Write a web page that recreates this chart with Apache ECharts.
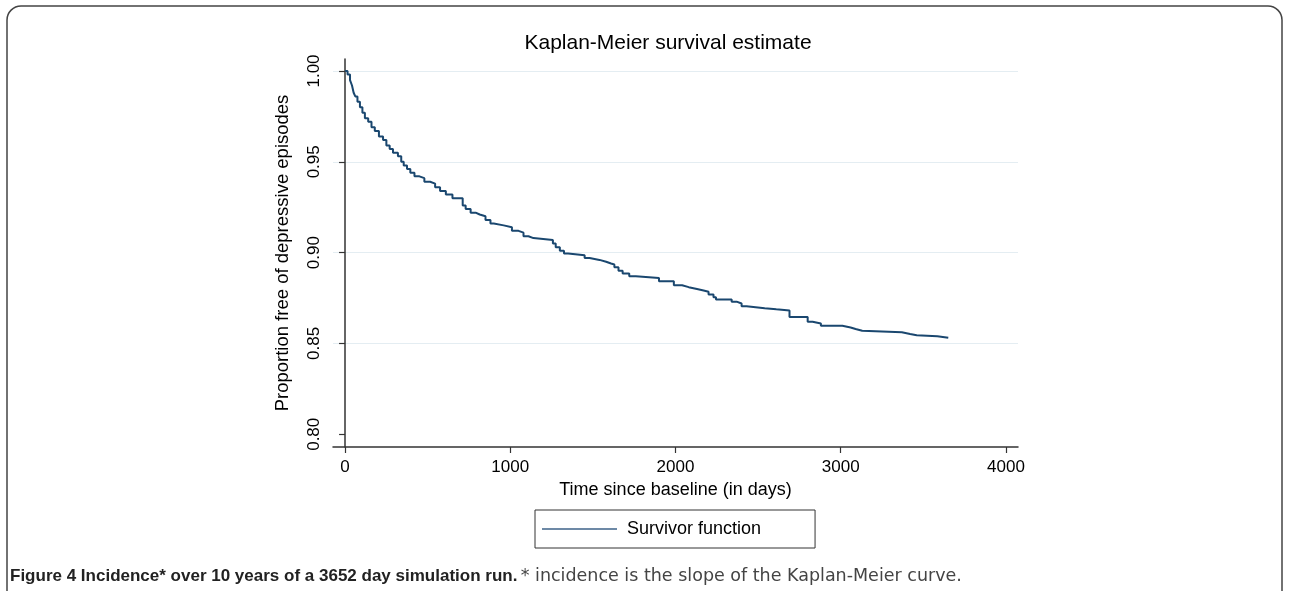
<!DOCTYPE html>
<html>
<head>
<meta charset="utf-8">
<script src="https://cdn.jsdelivr.net/npm/echarts@6/dist/echarts.min.js"></script>
<style>
  html, body { margin: 0; padding: 0; background: #fff; }
  #chart { width: 1289px; height: 591px; }
</style>
</head>
<body>
<div id="chart"></div>
<script>
// Kaplan-Meier 生存曲线 (数值读自原图)
var survTime = [0, 15, 30, 42, 52, 62, 75, 90, 105, 120, 140, 160, 180, 205, 230, 250, 270, 290, 320, 340,
	355, 375, 395, 420, 450, 480, 515, 545, 575, 610, 650, 712, 730, 760, 790, 815, 850, 880, 900, 960,
	1010, 1050, 1080, 1110, 1140, 1258, 1275, 1300, 1325, 1350, 1450, 1480, 1540, 1580, 1610, 1630, 1655, 1680, 1720, 1760,
	1900, 1990, 2040, 2080, 2130, 2170, 2200, 2230, 2245, 2340, 2370, 2400, 2430, 2540, 2610, 2690, 2800, 2830, 2880, 3010,
	3060, 3090, 3130, 3370, 3420, 3460, 3585, 3651];
var survProb = [1.000, 0.998, 0.995, 0.992, 0.988, 0.986, 0.983, 0.980, 0.977, 0.974, 0.972, 0.969, 0.967, 0.964, 0.962, 0.959, 0.957, 0.955, 0.953, 0.950,
	0.948, 0.946, 0.944, 0.942, 0.941, 0.939, 0.938, 0.936, 0.934, 0.932, 0.930, 0.926, 0.924, 0.922, 0.921, 0.920, 0.918, 0.916, 0.915, 0.914,
	0.912, 0.911, 0.909, 0.908, 0.907, 0.905, 0.903, 0.901, 0.8995, 0.8985, 0.897, 0.896, 0.895, 0.894, 0.8935, 0.892, 0.890, 0.8885, 0.887, 0.886,
	0.8843, 0.882, 0.881, 0.880, 0.8792, 0.8785, 0.877, 0.8755, 0.8742, 0.873, 0.872, 0.8705, 0.8694, 0.8688, 0.8682, 0.8645, 0.862, 0.861, 0.8598, 0.8588,
	0.858, 0.857, 0.8562, 0.8552, 0.8545, 0.854, 0.8531, 0.8531];
var xTicks = [0, 1000, 2000, 3000, 4000];
var yTicks = [0.80, 0.85, 0.90, 0.95, 1.00];

var fontNarrow = '"Liberation Sans Narrow", "Arial Narrow", "Liberation Sans", sans-serif';
var kmData = [];
for (var i = 0; i < survTime.length; i++) {
	kmData.push([survTime[i], survProb[i]]);
}

var myChart = echarts.init(document.getElementById('chart'));
var option = {
	animation: false,
	backgroundColor: '#fff',
	grid: {
		left: 333,
		right: 271,
		top: 59,
		bottom: 144
	},
	xAxis: {
		type: 'value',
		min: -73,
		max: 4073,
		name: 'Time since baseline (in days)',
		nameLocation: 'middle',
		nameGap: 25,
		nameTextStyle: { color: '#000', fontSize: 18, fontFamily: fontNarrow },
		axisLine: { show: true, lineStyle: { color: '#333', width: 1.5 } },
		axisTick: { show: true, length: 6, lineStyle: { color: '#333', width: 1.2 }, customValues: xTicks },
		axisLabel: {
			color: '#000', fontSize: 17, fontFamily: fontNarrow, margin: 12,
			customValues: xTicks,
			formatter: function (v) { return String(v); }
		},
		splitLine: { show: false }
	},
	yAxis: {
		type: 'value',
		min: 0.793,
		max: 1.0066,
		name: 'Proportion free of depressive episodes',
		nameLocation: 'middle',
		nameRotate: 90,
		nameGap: 41,
		nameTextStyle: { color: '#000', fontSize: 18.5, fontFamily: fontNarrow },
		axisLine: { show: true, lineStyle: { color: '#333', width: 1.5 } },
		axisTick: { show: true, length: 6, lineStyle: { color: '#333', width: 1.2 }, customValues: yTicks },
		axisLabel: {
			color: '#000', fontSize: 17, fontFamily: fontNarrow, rotate: 90, margin: 10,
			customValues: yTicks,
			formatter: function (v) { return v.toFixed(2); }
		},
		splitLine: {
			show: true,
			lineStyle: { color: ['rgba(0,0,0,0)', '#e4edf2', '#e4edf2', '#e4edf2', '#e4edf2'], width: 1.2 }
		}
	},
	legend: {
		left: 535,
		top: 510,
		itemWidth: 75,
		itemHeight: 1.5,
		padding: [9, 54, 9, 7],
		borderColor: '#333',
		borderWidth: 1,
		textStyle: { color: '#000', fontSize: 18, fontFamily: fontNarrow, lineHeight: 20, padding: [0, 0, 0, 5] },
		data: [{ name: 'Survivor function', icon: 'rect', itemStyle: { color: '#3d6288' } }]
	},
	graphic: [
		{
			type: 'rect',
			shape: { x: 7, y: 6, width: 1275, height: 640, r: 14 },
			style: { fill: 'none', stroke: '#444', lineWidth: 1.5 },
			silent: true
		},
		{
			type: 'text',
			x: 668,
			y: 43,
			style: {
				text: 'Kaplan-Meier survival estimate',
				fill: '#000',
				font: '21px ' + fontNarrow,
				textAlign: 'center',
				textVerticalAlign: 'middle'
			}
		},
		{
			type: 'text',
			x: 10,
			y: 576,
			style: {
				text: '{b|Figure 4 Incidence* over 10 years of a 3652 day simulation run.} {n|* incidence is the slope of the Kaplan-Meier curve.}',
				textVerticalAlign: 'middle',
				rich: {
					b: { fontWeight: 'bold', fontSize: 17, fontFamily: fontNarrow, fill: '#222' },
					n: { fontSize: 17.5, fontFamily: '"DejaVu Sans", sans-serif', fill: '#444' }
				}
			}
		}
	],
	series: [
		{
			name: 'Survivor function',
			type: 'line',
			step: 'end',
			symbol: 'none',
			data: kmData,
			lineStyle: { color: '#1a476f', width: 2 },
			itemStyle: { color: '#1a476f' }
		}
	]
};
myChart.setOption(option, true);
</script>
</body>
</html>
